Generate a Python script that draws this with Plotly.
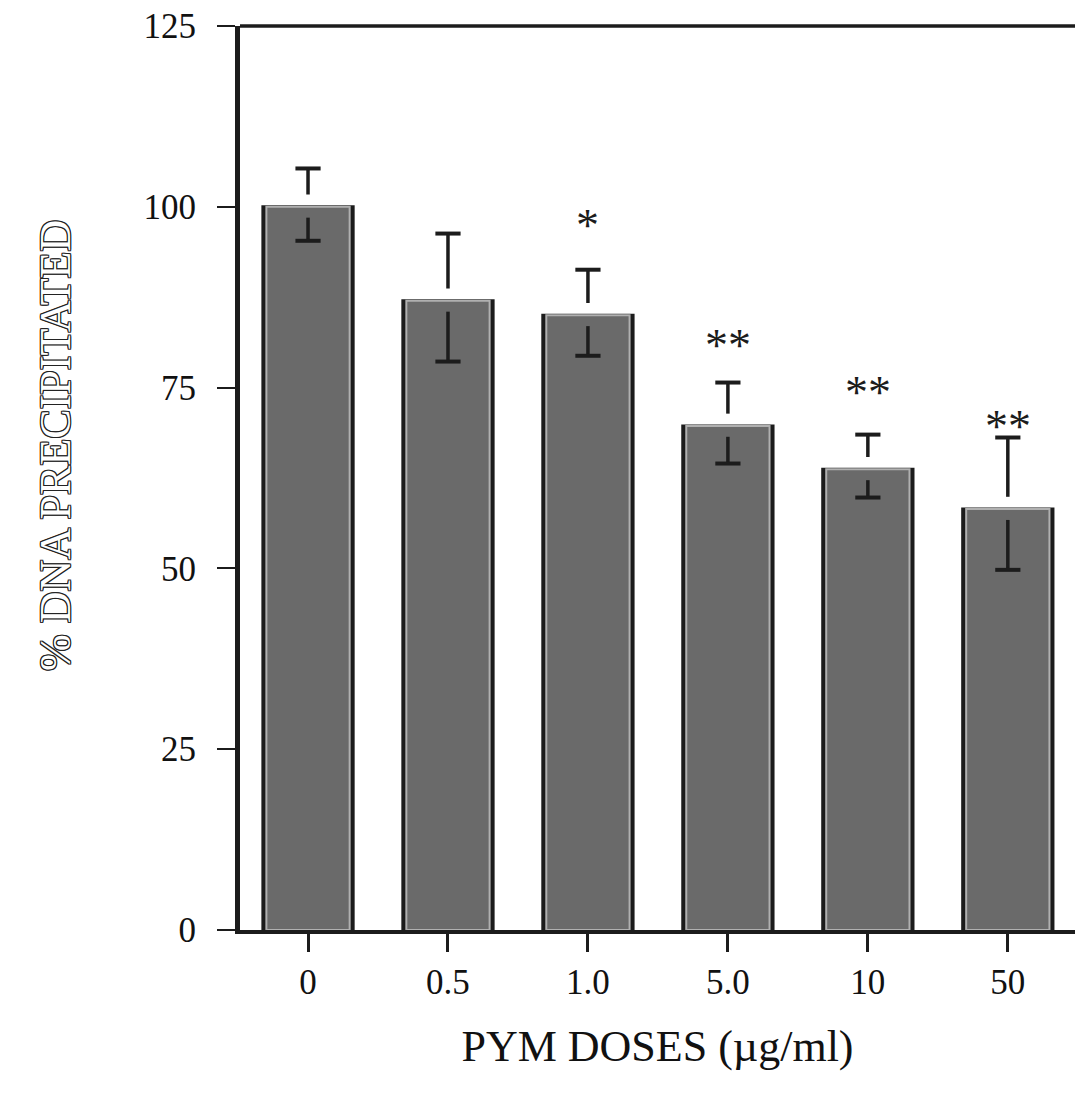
import plotly.graph_objects as go

# ---- data ----
doses = ["0", "0.5", "1.0", "5.0", "10", "50"]
dna_precipitated = [100.0, 87.0, 85.0, 69.7, 63.7, 58.2]
err_hi = [5.3, 9.3, 6.3, 6.0, 4.8, 9.9]
err_lo = [4.7, 8.4, 5.6, 5.2, 3.9, 8.4]
sig_labels = ["", "", "*", "**", "**", "**"]
sig_level = [None, None, 98.6, 82.0, 75.6, 70.9]

y_ticks = [0, 25, 50, 75, 100, 125]

# ---- style constants ----
FONT = "Liberation Serif"
INK = "#1c1c1c"
GAP_ABOVE = 1.7   # gap (data units) between bar top and upper error line
GAP_BELOW = 1.5   # gap below bar top before the lower error line

xpos = list(range(len(doses)))

fig = go.Figure()

# dark outer frame of each bar
fig.add_trace(go.Bar(
    x=xpos, y=dna_precipitated, width=0.645,
    marker=dict(color=INK, line=dict(color=INK, width=3)),
    hoverinfo="skip", showlegend=False,
))
# grey body with light inner rim
fig.add_trace(go.Bar(
    x=xpos, y=dna_precipitated, width=0.595,
    marker=dict(color="#6a6a6a", line=dict(color="#b0b0b0", width=2)),
    showlegend=False,
))

# error bars: upper part above bar, lower part inside bar, interrupted at bar top
ex, ey = [], []
cap_x, cap_y = [], []
for i, (m, hi, lo) in enumerate(zip(dna_precipitated, err_hi, err_lo)):
    ex += [i, i, None, i, i, None]
    ey += [m + hi, m + GAP_ABOVE, None, m - GAP_BELOW, m - lo, None]
    cap_x += [i, i]
    cap_y += [m + hi, m - lo]

fig.add_trace(go.Scatter(
    x=ex, y=ey, mode="lines",
    line=dict(color=INK, width=3.5),
    hoverinfo="skip", showlegend=False,
))
fig.add_trace(go.Scatter(
    x=cap_x, y=cap_y, mode="markers",
    marker=dict(symbol="line-ew", size=18, line=dict(color=INK, width=4)),
    hoverinfo="skip", showlegend=False,
))

# significance asterisks
for i, (lab, lvl) in enumerate(zip(sig_labels, sig_level)):
    if lab and lvl is not None:
        fig.add_annotation(
            x=i, y=lvl, text=lab, showarrow=False,
            font=dict(family=FONT, size=46, color=INK),
            xanchor="center", yanchor="middle", yshift=-9,
        )

# y-axis title (outlined lettering)
fig.add_annotation(
    xref="paper", yref="paper", x=-0.2216, y=0.5365,
    text="% DNA PRECIPITATED", textangle=-90, showarrow=False,
    xanchor="center", yanchor="middle",
    font=dict(family=FONT, size=44, color="white",
              shadow="1px 1px 0 #222, -1px -1px 0 #222, 1px -1px 0 #222, -1px 1px 0 #222, "
                     "1px 0 0 #222, -1px 0 0 #222, 0 1px 0 #222, 0 -1px 0 #222"),
)

# top frame line
fig.add_shape(type="line", xref="paper", yref="paper", x0=0, x1=1, y0=1, y1=1,
              line=dict(color=INK, width=3.5))

fig.update_layout(
    width=1075, height=1097,
    margin=dict(l=240, r=0, t=26, b=167),
    paper_bgcolor="white", plot_bgcolor="white",
    barmode="overlay",
    font=dict(family=FONT, color="#111111"),
)

fig.update_xaxes(
    range=[-0.486, 5.48],
    tickmode="array", tickvals=xpos, ticktext=doses,
    ticks="outside", ticklen=18, tickwidth=3, tickcolor=INK,
    tickfont=dict(family=FONT, size=35, color="#111111"),
    showline=True, linecolor=INK, linewidth=4,
    showgrid=False, zeroline=False,
    title=dict(text="PYM DOSES (\u00b5g/ml)",
               font=dict(family=FONT, size=44, color="#111111"), standoff=30),
)

fig.update_yaxes(
    range=[0, 125],
    tickmode="array", tickvals=y_ticks,
    ticks="outside", ticklen=18, tickwidth=2, tickcolor=INK,
    tickfont=dict(family=FONT, size=35, color="#111111"),
    ticklabelstandoff=14,
    showline=True, linecolor=INK, linewidth=5,
    showgrid=False, zeroline=False,
)

fig.write_html("out.html")
